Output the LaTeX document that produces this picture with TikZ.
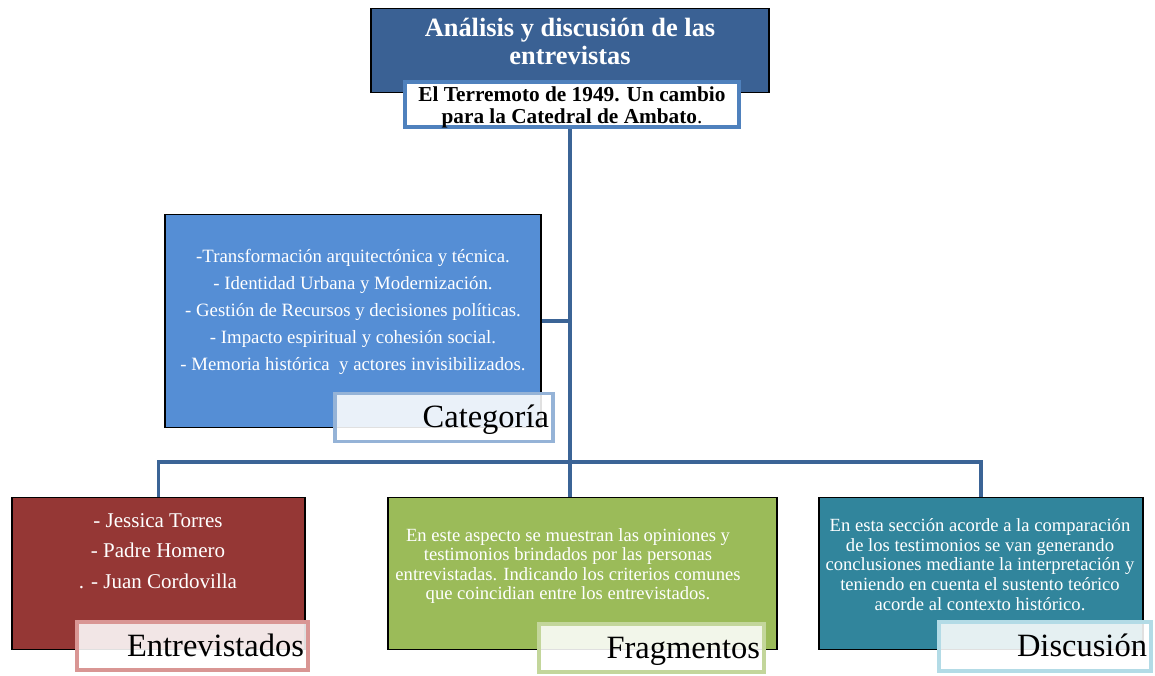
\documentclass[tikz,border=0pt]{standalone}
\usepackage{fontspec}
\setmainfont{Liberation Serif}
\usepackage{tikz}
\definecolor{tituloAzul}{HTML}{3A6194}
\definecolor{bordeAzul}{HTML}{4F81BD}
\definecolor{lineaAzul}{HTML}{3B6496}
\definecolor{catAzul}{HTML}{558ED5}
\definecolor{catBorde}{HTML}{95B3D7}
\definecolor{entRojo}{HTML}{953735}
\definecolor{entBorde}{HTML}{D99694}
\definecolor{fraVerde}{HTML}{9BBB59}
\definecolor{fraBorde}{HTML}{C3D69B}
\definecolor{disTeal}{HTML}{31859C}
\definecolor{disBorde}{HTML}{B3DBE6}
\tikzstyle{mainBox}=[shape = rectangle, draw = black, line width = 1.5pt, inner sep = 0pt]
\tikzstyle{labelBox}=[shape = rectangle, line width = 3.5pt, fill = white, fill opacity = 0.88, text opacity = 1, inner xsep = 4pt, align = right, text height = 27.5pt, text depth = 7.5pt, font = \fontsize{32.5}{34}\selectfont]
\tikzstyle{bodyText}=[text = white, align = center, inner sep = 0pt]
\tikzstyle{trunk}=[draw = lineaAzul, line width = 3.5pt]

\begin{document}
\begin{tikzpicture}[x = 1pt, y = -1pt]
\useasboundingbox (0,0) rectangle (1155,675);
% conectores
\coordinate (top) at (570,129);
\coordinate (bar) at (570,462);
% cajas principales
\node[mainBox, fill = tituloAzul, minimum width = 398pt, minimum height = 84pt] (titulo) at (570,50.5) {};
\node[bodyText, font = \fontsize{26.4}{28}\selectfont\bfseries] (tituloTxt) at (570,41) {Análisis y discusión de las\\entrevistas};
\node[mainBox, fill = catAzul, minimum width = 376pt, minimum height = 213pt] (cat) at (353,321) {};
\node[mainBox, fill = entRojo, minimum width = 293pt, minimum height = 152pt] (entr) at (158.5,573.5) {};
\node[mainBox, fill = fraVerde, minimum width = 389pt, minimum height = 152pt] (frag) at (582.5,573.5) {};
\node[mainBox, fill = disTeal, minimum width = 324pt, minimum height = 152pt] (disc) at (981,573.5) {};
\draw[trunk] (top) -- (top |- frag.north);
\draw[trunk] (cat.east) -- (top |- cat.east);
\draw[trunk] (entr.north) |- (bar) -| (disc.north);
% subtitulo
\node[shape = rectangle, draw = bordeAzul, line width = 3.5pt, fill = white, minimum width = 334pt, minimum height = 45pt, inner sep = 0pt] (sub) at (572,104.5) {};
\node[align = center, inner sep = 0pt, font = \fontsize{21.3}{21.5}\selectfont] (subTxt) at (572,107.5) {\textbf{El Terremoto de 1949. Un cambio}\\\textbf{para la Catedral de Ambato}.};
% textos
\node[bodyText, font = \fontsize{18.8}{27}\selectfont] (catTxt) at (353,312) {-Transformación arquitectónica y técnica.\\- Identidad Urbana y Modernización.\\- Gestión de Recursos y decisiones políticas.\\- Impacto espiritual y cohesión social.\\- Memoria histórica~ y actores invisibilizados.};
\node[bodyText, font = \fontsize{21}{30.5}\selectfont] (entrTxt) at (158,551) {- Jessica Torres\\- Padre Homero\\. - Juan Cordovilla};
\node[bodyText, font = \fontsize{18.6}{19.3}\selectfont] (fragTxt) at (568,566) {En este aspecto se muestran las opiniones y\\testimonios brindados por las personas\\entrevistadas. Indicando los criterios comunes\\que coincidian entre los entrevistados.};
\node[bodyText, font = \fontsize{18.6}{19.6}\selectfont] (discTxt) at (980,564.5) {En esta sección acorde a la comparación\\de los testimonios se van generando\\conclusiones mediante la interpretación y\\teniendo en cuenta el sustento teórico\\acorde al contexto histórico.};
% etiquetas
\node[labelBox, draw = catBorde, minimum width = 218pt, minimum height = 48pt, text width = 210pt] (catLbl) at (444,417.5) {Categoría};
\node[labelBox, draw = entBorde, minimum width = 231pt, minimum height = 48pt, text width = 223pt] (entrLbl) at (192.5,646) {Entrevistados};
\node[labelBox, draw = fraBorde, minimum width = 225pt, minimum height = 48pt, text width = 217pt] (fragLbl) at (651.5,648) {Fragmentos};
\node[labelBox, draw = disBorde, minimum width = 212pt, minimum height = 49pt, text width = 204pt] (discLbl) at (1045,646.5) {Discusión};
\end{tikzpicture}
\end{document}
